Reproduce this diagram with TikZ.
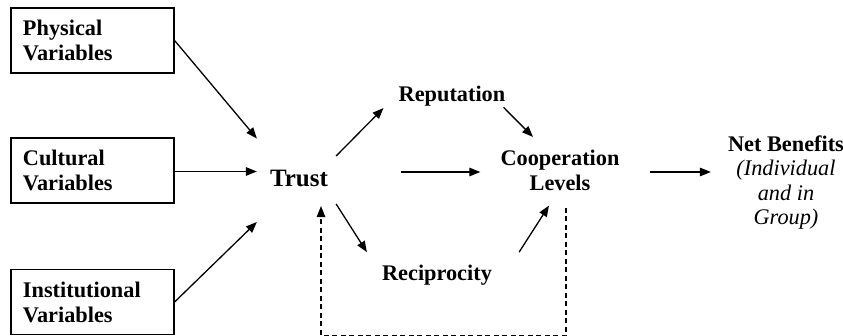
\documentclass[tikz,border=0pt]{standalone}
\usepackage{fontspec}
\setmainfont{Liberation Serif}
\usetikzlibrary{arrows.meta,calc}
\tikzset{
  varbox/.style={draw, line width=1.2pt, minimum width=163pt, minimum height=65pt,
    text width=139pt, inner xsep=12pt, inner ysep=0pt, align=left,
    font=\fontsize{22.3}{25}\selectfont\bfseries},
  lbl/.style={inner sep=0pt, align=center, font=\fontsize{22.3}{25}\selectfont\bfseries},
  arr/.style={line width=1.3pt, -{Triangle[length=11pt,width=8.5pt]}},
  dashline/.style={line width=1.2pt, dash pattern=on 5pt off 3.5pt}
}
\begin{document}
\begin{tikzpicture}[x=1pt,y=-1pt]
\useasboundingbox (0,0) rectangle (843,336);
\node[varbox] (phys) at (92.5,40.5) {Physical\\Variables};
\node[varbox] (cult) at (92.5,170.5) {Cultural\\Variables};
\node[varbox] (inst) at (92.5,302) {Institutional\\Variables};
\node[lbl, font=\fontsize{25}{28}\selectfont\bfseries] (trust) at (299,178.5) {Trust};
\node[lbl] (rep) at (452,96) {Reputation};
\node[lbl] (coop) at (560,170) {Cooperation\\Levels};
\node[lbl] (recip) at (437,275) {Reciprocity};
\node[lbl, anchor=north, font=\fontsize{22.3}{24.5}\selectfont] (net) at (786,135.5)
  {\textbf{Net Benefits}\\\textit{(Individual}\\\textit{and in}\\\textit{Group)}};
% inputs to trust
\draw[arr] (phys.east) -- ($(trust.west)+(-13,-40)$);
\draw[arr] ($(cult.east)+(0,1)$) -- ($(trust.west |- cult.east)+(-13,1)$);
\draw[arr] (inst.east) -- ($(trust.west)+(-13,43.5)$);
% trust outputs
\draw[arr] ($(trust.east)+(8,-22.5)$) -- ($(rep.west)+(-15,12)$);
\draw[arr] ($(trust.east)+(73,-6.5)$) -- ($(coop.west)+(-20,2)$);
\draw[arr] ($(trust.east)+(8,25.5)$) -- ($(recip.north west)+(-15,-12.5)$);
% into cooperation
\draw[arr] ($(rep.south east)+(-2,1)$) -- ($(coop.north)+(-27,-12.5)$);
\draw[arr] ($(recip.north east)+(27,-12.5)$) -- ($(coop.south)+(-11,15)$);
% to net benefits
\draw[arr] ($(coop.east)+(30,2)$) -- ($(net.west |- coop.east)+(-17,2)$);
% feedback
\draw[arr, dashline] ($(coop.south)+(6,17)$) -- ($(coop.south)+(6,145)$)
  -| ($(trust.south)+(22,19)$);
\end{tikzpicture}
\end{document}
